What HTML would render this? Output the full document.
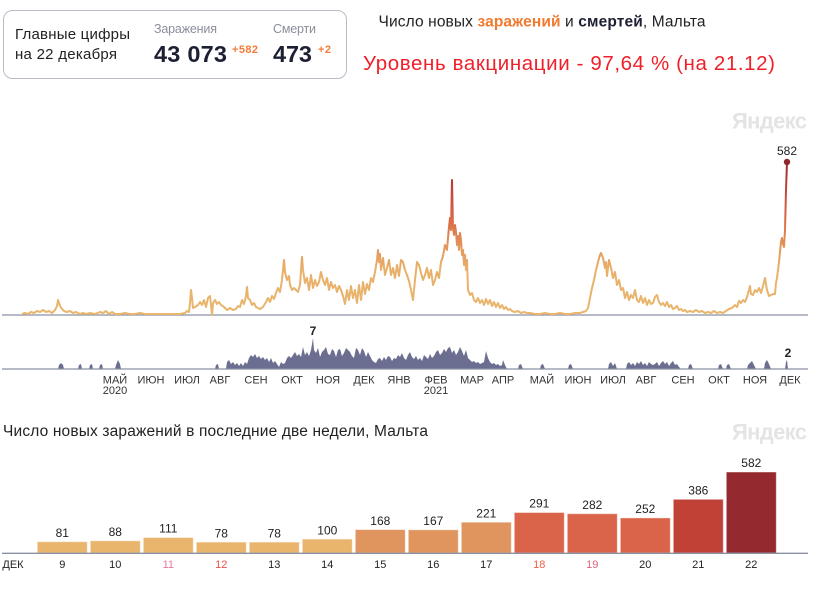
<!DOCTYPE html>
<html><head><meta charset="utf-8"><style>
html,body{margin:0;padding:0;background:#fff;}
svg{display:block;font-family:"Liberation Sans",sans-serif;}
</style></head><body>
<svg width="820" height="592" viewBox="0 0 820 592" xmlns="http://www.w3.org/2000/svg">
<defs>
<linearGradient id="lg" gradientUnits="userSpaceOnUse" x1="0" y1="315" x2="0" y2="160">
<stop offset="0" stop-color="#e9b66d"/>
<stop offset="0.3" stop-color="#e8b06a"/>
<stop offset="0.45" stop-color="#e29359"/>
<stop offset="0.6" stop-color="#db6e48"/>
<stop offset="0.8" stop-color="#c6453a"/>
<stop offset="1" stop-color="#922a30"/>
</linearGradient>
</defs>
<rect x="0" y="0" width="820" height="592" fill="#fff"/>
<!-- header card -->
<rect x="3.5" y="10.5" width="343" height="68" rx="9" fill="#fff" stroke="#b9bcc6" stroke-width="1"/>
<text x="15" y="39" font-size="15" fill="#222" textLength="115">Главные цифры</text>
<text x="15" y="59" font-size="15" fill="#222" textLength="102">на 22 декабря</text>
<text x="154" y="33" font-size="12.5" fill="#8b8e9c" textLength="63">Заражения</text>
<text x="154" y="62" font-size="23.5" font-weight="bold" fill="#1d2033" textLength="73">43 073</text>
<text x="232" y="53" font-size="11" font-weight="bold" fill="#f47b3a" textLength="26">+582</text>
<text x="273" y="33" font-size="12.5" fill="#8b8e9c" textLength="43">Смерти</text>
<text x="273" y="62" font-size="23.5" font-weight="bold" fill="#1d2033" textLength="39">473</text>
<text x="318" y="53" font-size="11" font-weight="bold" fill="#f47b3a" textLength="13">+2</text>
<!-- titles -->
<text x="378.5" y="26.5" font-size="15.5" fill="#222" textLength="327">Число новых <tspan font-weight="bold" fill="#f07a30">заражений</tspan> и <tspan font-weight="bold" fill="#1d2033">смертей</tspan>, Мальта</text>
<text x="363" y="70" font-size="20.5" fill="#f0202a" textLength="412">Уровень вакцинации - 97,64 % (на 21.12)</text>
<text x="732" y="128.5" font-size="22" font-weight="bold" fill="#e4e4e4" textLength="75">Яндекс</text>
<!-- main axes -->
<line x1="2" y1="315" x2="808" y2="315" stroke="#8a90a3" stroke-width="1.3"/>
<polyline fill="none" stroke="url(#lg)" stroke-width="2" stroke-linejoin="round" points="22,314 25,313 28,314 31,312 34,313 37,311 40,312 43,310 46,312 49,311 52,313 55,310 57,306 58,300 60,306 62,309 64,311 67,312 70,311 73,313 76,312 80,314 83,313 86,314 90,313 95,314 100,312 103,313 106,311 109,314 112,312 115,314 120,314 125,313 130,314 135,314 140,313 145,314 150,314 160,314 170,314 180,314 185,313 187,311 189,312 190,303 191,290 192,298 193,308 195,307 198,305 200,302 202,305 204,300 206,307 208,298 210,296 211,305 212,315 213,303 215,300 217,304 219,302 221,305 224,307 227,310 230,308 233,310 236,309 238,306 240,307 242,300 244,304 246,296 247,287 248,298 250,300 252,305 254,303 256,307 258,308 260,309 263,307 266,302 268,298 270,302 272,296 274,299 276,293 278,288 280,292 282,280 284,260 285,272 287,280 289,276 290,285 292,290 294,288 296,290 298,292 300,285 302,257 303,270 305,283 307,278 309,290 311,275 313,288 315,280 317,286 319,282 321,272 323,280 325,285 327,278 329,290 331,282 333,288 335,285 337,292 339,286 341,290 343,296 345,304 347,290 349,300 351,286 353,298 355,290 357,303 359,285 361,300 363,282 365,294 367,284 369,290 371,278 373,282 375,272 377,260 378,250 379,262 380,254 381,270 383,258 385,275 387,268 389,260 391,275 393,268 395,278 397,265 399,276 401,260 403,262 405,270 407,275 409,281 411,290 413,300 415,280 417,262 419,265 421,273 423,280 425,275 427,268 429,278 431,270 433,285 435,280 437,272 439,278 441,262 443,256 445,245 447,250 448,238 449,227 450,218 451,230 452,180 453,228 454,235 455,225 456,232 457,245 458,236 459,250 460,233 461,240 462,255 463,250 464,265 465,255 466,270 467,260 468,290 470,295 472,293 474,300 476,302 478,298 480,303 482,300 484,305 486,299 488,304 490,300 492,306 494,302 496,307 498,303 500,308 502,305 504,309 506,307 508,310 510,309 512,311 515,312 518,311 521,313 524,312 527,313 530,313 535,314 540,314 545,313 550,314 555,314 560,313 565,314 570,314 575,313 580,313 583,312 586,311 588,308 590,298 592,288 594,280 596,270 598,262 600,255 601,253 603,258 605,268 606,262 607,276 609,260 611,268 613,278 615,272 617,285 619,280 621,290 623,288 625,298 627,292 629,300 631,295 633,298 635,290 637,300 639,302 641,296 643,303 645,298 647,305 649,300 651,304 653,303 655,297 657,295 659,302 661,305 663,303 665,306 667,302 669,307 671,305 673,309 675,308 677,306 679,310 681,309 683,311 685,310 687,312 690,311 693,312 696,310 699,312 702,311 705,313 708,312 711,313 714,311 717,313 720,312 723,313 726,311 729,309 732,308 735,305 737,307 739,301 741,303 743,300 745,302 747,297 749,290 750,286 751,294 753,295 755,290 757,292 759,288 761,293 763,286 765,278 767,290 769,296 771,295 773,294 775,294 776,283 777,278 778,270 779,262 780,252 781,242 782,238 783,244 784,247 785,230 786,190 787,162"/>
<circle cx="787" cy="162" r="3.2" fill="#8e2a2e"/>
<text x="787" y="155" font-size="12" fill="#222" text-anchor="middle">582</text>
<!-- deaths -->
<path fill="#6b6e90" d="M22,369 L58,369 L59,365 L61,363 L63,365 L64,369 L78,369 L79,365 L81,364 L82,369 L89,369 L90,365 L92,364 L93,369 L99,369 L100,365 L102,364 L103,369 L115,369 L116,365 L118,360 L120,364 L121,369 L215,369 L216,365 L218,364 L219,369 L226,369 L227,362 L229,360 L231,364 L233,362 L235,365 L237,363 L239,366 L241,363 L243,366 L245,362 L247,364 L249,358 L251,355 L253,357 L255,354 L257,358 L259,356 L261,359 L263,357 L265,360 L267,358 L269,362 L271,358 L273,363 L275,361 L277,364 L279,367 L281,362 L283,364 L285,363 L287,358 L289,356 L291,358 L293,355 L295,352 L297,356 L299,354 L301,357 L303,347 L305,355 L307,352 L309,356 L311,350 L313,338 L314,350 L316,353 L318,348 L320,357 L322,352 L324,350 L326,347 L328,354 L330,355 L332,349 L334,351 L336,357 L338,350 L340,349 L342,356 L344,353 L346,348 L348,350 L350,352 L352,356 L354,358 L356,348 L358,350 L360,355 L362,348 L364,351 L366,357 L368,352 L370,356 L372,360 L374,362 L376,363 L378,359 L380,358 L382,361 L384,357 L386,360 L388,356 L390,357 L392,361 L394,358 L396,359 L398,355 L400,357 L402,353 L404,358 L406,360 L408,355 L410,352 L412,357 L414,359 L416,356 L418,360 L420,358 L422,361 L424,355 L426,357 L428,359 L430,354 L432,358 L434,356 L436,352 L438,350 L440,355 L442,353 L444,349 L446,352 L448,348 L450,347 L452,353 L454,350 L456,355 L458,352 L460,347 L462,351 L464,356 L466,350 L468,358 L470,360 L472,362 L474,361 L476,363 L478,362 L480,364 L482,363 L484,362 L486,351 L488,358 L490,362 L492,364 L494,363 L496,365 L498,364 L500,366 L502,365 L503,360 L505,365 L507,369 L518,369 L519,365 L521,364 L523,369 L540,369 L541,365 L543,364 L545,369 L568,369 L569,365 L571,364 L573,369 L608,369 L609,364 L611,362 L613,366 L615,363 L617,369 L626,369 L627,364 L629,362 L631,365 L633,363 L635,366 L637,362 L639,364 L641,361 L643,365 L645,363 L647,366 L649,362 L651,364 L653,365 L655,364 L657,362 L659,366 L661,363 L663,361 L665,364 L667,362 L669,366 L671,363 L673,361 L675,365 L677,364 L679,367 L681,369 L688,369 L689,365 L691,364 L693,369 L718,369 L719,365 L721,364 L723,369 L726,369 L727,365 L729,364 L731,369 L747,369 L748,365 L750,363 L752,361 L754,365 L756,369 L764,369 L765,363 L767,360 L769,364 L771,369 L785,369 L786,362 L787,360 L788,369 Z"/>
<line x1="2" y1="369" x2="808" y2="369" stroke="#8a90a3" stroke-width="1.3"/>
<text x="313" y="335" font-size="12" font-weight="bold" fill="#222" text-anchor="middle">7</text>
<text x="788" y="357" font-size="12" font-weight="bold" fill="#222" text-anchor="middle">2</text>
<!-- month labels -->
<g font-size="11" fill="#333" text-anchor="middle">
<text x="115" y="383.5">МАЙ</text><text x="115" y="394">2020</text>
<text x="151" y="383.5">ИЮН</text>
<text x="187" y="383.5">ИЮЛ</text>
<text x="220" y="383.5">АВГ</text>
<text x="256" y="383.5">СЕН</text>
<text x="292" y="383.5">ОКТ</text>
<text x="328" y="383.5">НОЯ</text>
<text x="364" y="383.5">ДЕК</text>
<text x="399" y="383.5">ЯНВ</text>
<text x="436" y="383.5">ФЕВ</text><text x="436" y="394">2021</text>
<text x="472" y="383.5">МАР</text>
<text x="503" y="383.5">АПР</text>
<text x="542" y="383.5">МАЙ</text>
<text x="578" y="383.5">ИЮН</text>
<text x="613" y="383.5">ИЮЛ</text>
<text x="646" y="383.5">АВГ</text>
<text x="683" y="383.5">СЕН</text>
<text x="719" y="383.5">ОКТ</text>
<text x="755" y="383.5">НОЯ</text>
<text x="790" y="383.5">ДЕК</text>
</g>
<!-- bar chart -->
<text x="3" y="436" font-size="15.5" fill="#222" textLength="425">Число новых заражений в последние две недели, Мальта</text>
<text x="732" y="439.5" font-size="22" font-weight="bold" fill="#e4e4e4" textLength="75">Яндекс</text>
<g stroke="#ffffff" stroke-opacity="0.45" stroke-width="1">
<rect x="37.3" y="541.7" width="50" height="11.3" fill="#e9b56c"/>
<rect x="90.3" y="540.8" width="50" height="12.2" fill="#e9b56c"/>
<rect x="143.3" y="537.5" width="50" height="15.5" fill="#e9b56c"/>
<rect x="196.3" y="542.1" width="50" height="10.9" fill="#e9b56c"/>
<rect x="249.3" y="542.1" width="50" height="10.9" fill="#e9b56c"/>
<rect x="302.3" y="539.1" width="50" height="13.9" fill="#e9b56c"/>
<rect x="355.3" y="529.6" width="50" height="23.4" fill="#e0945e"/>
<rect x="408.3" y="529.8" width="50" height="23.2" fill="#e0945e"/>
<rect x="461.3" y="522.2" width="50" height="30.8" fill="#e0945e"/>
<rect x="514.3" y="512.5" width="50" height="40.5" fill="#da6449"/>
<rect x="567.3" y="513.7" width="50" height="39.3" fill="#da6449"/>
<rect x="620.3" y="517.9" width="50" height="35.1" fill="#da6449"/>
<rect x="673.3" y="499.3" width="50" height="53.7" fill="#c14136"/>
<rect x="726.3" y="472" width="50" height="81" fill="#942a30"/>
</g>
<line x1="2" y1="553.3" x2="808" y2="553.3" stroke="#8a90a3" stroke-width="1.3"/>
<g font-size="12" fill="#222" text-anchor="middle">
<text x="62.3" y="537">81</text>
<text x="115.3" y="536">88</text>
<text x="168.3" y="532.5">111</text>
<text x="221.3" y="537.3">78</text>
<text x="274.3" y="537.3">78</text>
<text x="327.3" y="534.3">100</text>
<text x="380.3" y="524.8">168</text>
<text x="433.3" y="525">167</text>
<text x="486.3" y="517.4">221</text>
<text x="539.3" y="507.7">291</text>
<text x="592.3" y="508.9">282</text>
<text x="645.3" y="513.1">252</text>
<text x="698.3" y="494.5">386</text>
<text x="751.3" y="467.2">582</text>
</g>
<g font-size="11" fill="#222" text-anchor="middle">
<text x="13" y="568">ДЕК</text>
<text x="62.3" y="568">9</text>
<text x="115.3" y="568">10</text>
<text x="168.3" y="568" fill="#e3789a">11</text>
<text x="221.3" y="568" fill="#ec5048">12</text>
<text x="274.3" y="568">13</text>
<text x="327.3" y="568">14</text>
<text x="380.3" y="568">15</text>
<text x="433.3" y="568">16</text>
<text x="486.3" y="568">17</text>
<text x="539.3" y="568" fill="#ec6048">18</text>
<text x="592.3" y="568" fill="#e4607f">19</text>
<text x="645.3" y="568">20</text>
<text x="698.3" y="568">21</text>
<text x="751.3" y="568">22</text>
</g>
</svg>
</body></html>
